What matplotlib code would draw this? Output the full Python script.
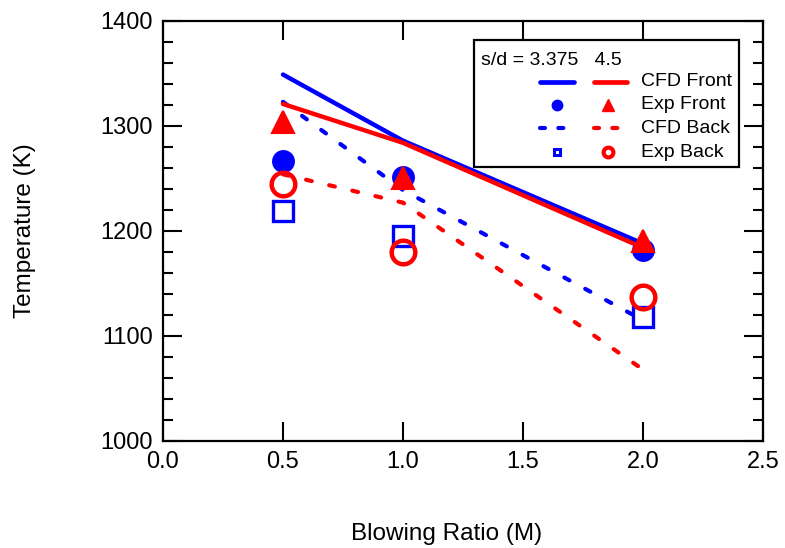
from matplotlib import pyplot as plt
from matplotlib.patches import Rectangle

plt.rcParams['font.family'] = ['Liberation Sans', 'DejaVu Sans']

# blowing ratios
M = [0.5, 1.0, 2.0]

# s/d = 3.375 (blue)
cfd_front_a = [1349, 1286, 1188]
cfd_back_a = [1323, 1239, 1115]
exp_front_a = [1267, 1251, 1182]
exp_back_a = [1219, 1195, 1118]

# s/d = 4.5 (red)
cfd_front_b = [1321, 1284, 1184]
cfd_back_b = [1254, 1227, 1068]
exp_front_b = [1304, 1250, 1190]
exp_back_b = [1245, 1180, 1137]

blue = '#0000ff'
red = '#ff0000'
dash = (1.4, 4.3)

fig = plt.figure(figsize=(7.85, 5.48), dpi=100)
ax = fig.add_axes([0.2076, 0.1953, 0.7644, 0.7664])

ax.plot(M, cfd_front_a, color=blue, lw=3.2, solid_capstyle='round')
ax.plot(M, cfd_back_a, color=blue, lw=3, dashes=dash, dash_capstyle='round')
ax.plot(M, exp_front_a, 'o', color=blue, ms=16.5, mew=0)
ax.plot(M, exp_back_a, 's', color=blue, mfc='none', ms=14, mew=2.4)
ax.plot(M, cfd_front_b, color=red, lw=3.2, solid_capstyle='round')
ax.plot(M, cfd_back_b, color=red, lw=3, dashes=dash, dash_capstyle='round')
ax.plot(M, exp_front_b, '^', color=red, ms=16, mew=1.5, mec=red)
ax.plot(M, exp_back_b, 'o', color=red, mfc='none', ms=17, mew=3.2)

ax.set_xlim(0, 2.5)
ax.set_ylim(1000, 1400)
ax.set_xticks([0.0, 0.5, 1.0, 1.5, 2.0, 2.5])
ax.set_yticks([1000, 1100, 1200, 1300, 1400])
ax.set_yticks(range(1000, 1401, 20), minor=True)
ax.set_xticklabels(['0.0', '0.5', '1.0', '1.5', '2.0', '2.5'])

ax.tick_params(which='both', direction='in', top=True, right=True,
               width=1.5, labelsize=17, pad=7)
ax.tick_params(which='major', length=13.5)
ax.tick_params(which='minor', length=7.5)
ax.tick_params(axis='x', which='minor', bottom=False, top=False)
for sp in ax.spines.values():
    sp.set_linewidth(1.6)

ax.set_xlabel('Blowing Ratio (M)', fontsize=17.5)
ax.set_ylabel('Temperature (K)', fontsize=17.5)
ax.xaxis.set_label_coords(0.473, -0.196)
ax.yaxis.set_label_coords(-0.212, 0.502)

# hand-built legend with two columns of handles
tr = ax.transAxes
ax.add_patch(Rectangle((0.518, 0.652), 0.442, 0.303, transform=tr,
                       fill=False, lw=1.6, ec='black', zorder=5))
ax.text(0.53, 0.907, 's/d = 3.375   4.5', transform=tr, fontsize=14,
        va='center', ha='left', zorder=6)
rows = [0.855, 0.80, 0.745, 0.688]
labels = ['CFD Front', 'Exp Front', 'CFD Back', 'Exp Back']
for y, lab in zip(rows, labels):
    ax.text(0.797, y, lab, transform=tr, fontsize=14, va='center',
            ha='left', zorder=6)

ax.plot([0.628, 0.685], [rows[0]] * 2, color=blue, lw=3.4,
        solid_capstyle='round', transform=tr, zorder=6)
ax.plot([0.718, 0.773], [rows[0]] * 2, color=red, lw=3.4,
        solid_capstyle='round', transform=tr, zorder=6)
ax.plot([0.656], [rows[1]], 'o', color=blue, ms=8.5, mew=0,
        transform=tr, zorder=6)
ax.plot([0.742], [rows[1]], '^', color=red, ms=8.5, mew=1, mec=red,
        transform=tr, zorder=6)
ax.plot([0.628, 0.685], [rows[2]] * 2, color=blue, lw=3, dashes=(1.2, 3.2),
        dash_capstyle='round', transform=tr, zorder=6)
ax.plot([0.718, 0.773], [rows[2]] * 2, color=red, lw=3, dashes=(1.2, 3.2),
        dash_capstyle='round', transform=tr, zorder=6)
ax.plot([0.656], [rows[3]], 's', color=blue, mfc='none', ms=5, mew=2.2,
        transform=tr, zorder=6)
ax.plot([0.742], [rows[3]], 'o', color=red, mfc='none', ms=7, mew=3,
        transform=tr, zorder=6)

plt.savefig('out.png', dpi=100)
